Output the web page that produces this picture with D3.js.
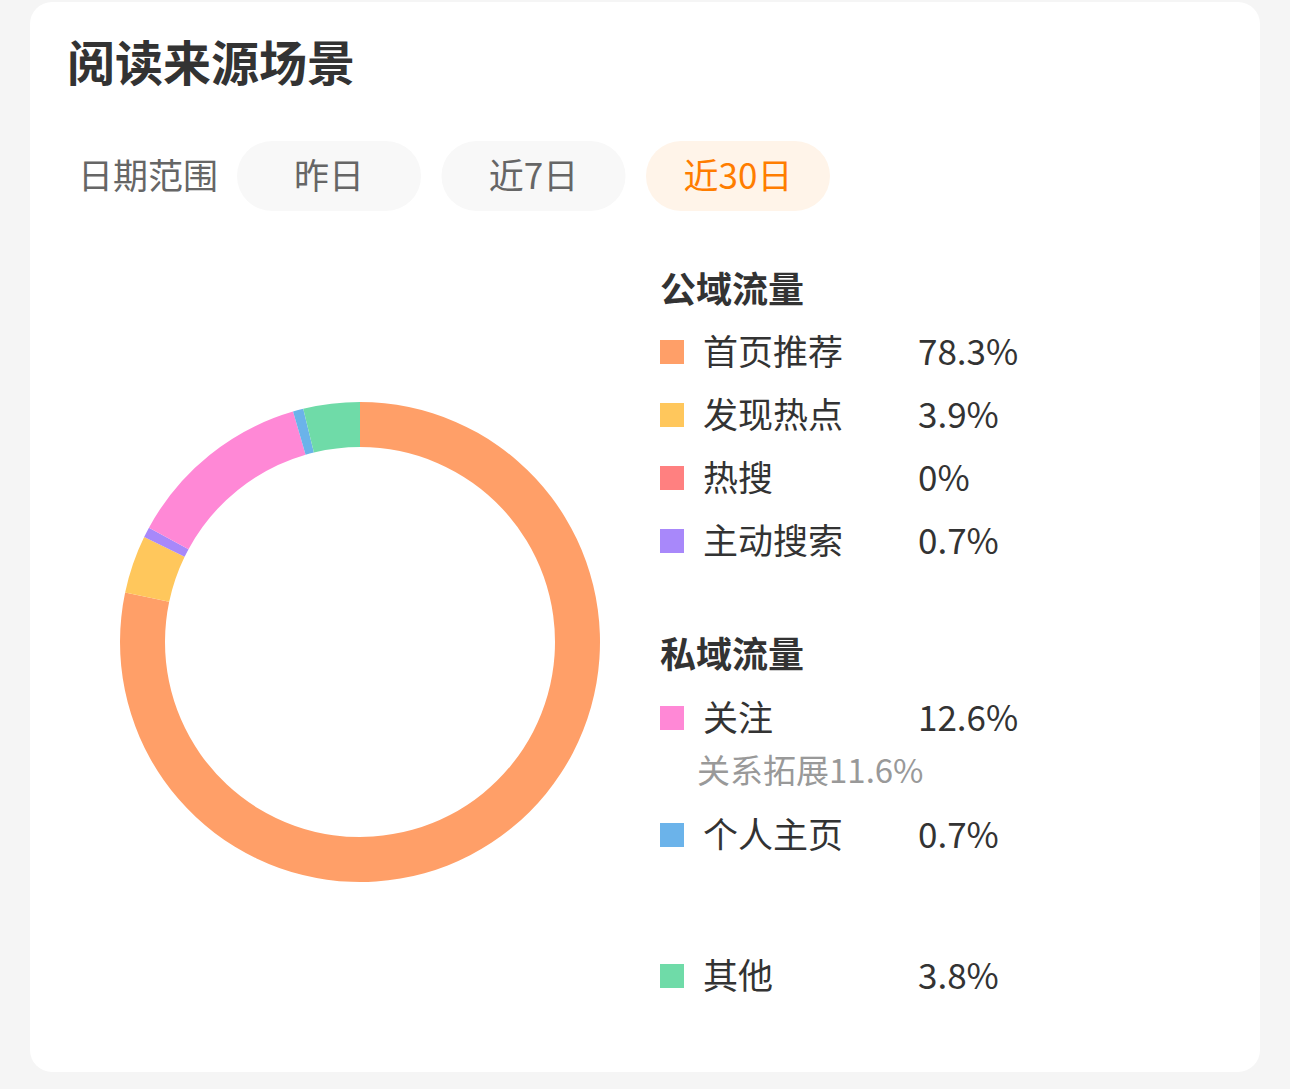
<!DOCTYPE html>
<html>
<head>
<meta charset="utf-8">
<title>阅读来源场景</title>
<script src="https://d3js.org/d3.v7.min.js"></script>
<style>
	body{
		margin:0;
		background-color:#f5f5f5;
		font-family:"Noto Sans CJK SC", "Noto Sans", sans-serif;
	}
	svg{ display:block; }
</style>
</head>
<body>
<div id="chart"></div>
<script>

// DATA

var sources = ["首页推荐", "发现热点", "热搜", "主动搜索", "关注", "个人主页", "其他"];
var shares = [78.3, 3.9, 0, 0.7, 12.6, 0.7, 3.8];
var labels = ["78.3%", "3.9%", "0%", "0.7%", "12.6%", "0.7%", "3.8%"];
var groups = ["公域流量", "公域流量", "公域流量", "公域流量", "私域流量", "私域流量", "其他"];
var colors = ["#FF9F68", "#FFC75C", "#FF8080", "#A888FA", "#FF88D6", "#6BB3EA", "#6FDBA8"];
var subNote = {source:"关注", text:"关系拓展11.6%"};
var dateTabs = ["昨日", "近7日", "近30日"];
var activeTab = "近30日";

// SETUP

var width = 1290, height = 1089;
var dy = -3; // nudge for the CJK font's central baseline

var svg = d3.select("#chart").append("svg")
	.attr("width", width)
	.attr("height", height);

svg.append("rect")
	.attr("x", 30).attr("y", 2)
	.attr("width", 1230).attr("height", 1070)
	.attr("rx", 22)
	.attr("fill", "#fff");

// TITLE + DATE TABS

svg.append("text")
	.attr("x", 67).attr("y", 63 + dy)
	.attr("dominant-baseline", "central")
	.attr("font-size", 48).attr("font-weight", 700)
	.attr("fill", "#333")
	.text("阅读来源场景");

svg.append("text")
	.attr("x", 78).attr("y", 176 + dy)
	.attr("dominant-baseline", "central")
	.attr("font-size", 35)
	.attr("fill", "#666")
	.text("日期范围");

var tabX = d3.scaleBand()
	.domain(dateTabs)
	.range([237, 830])
	.paddingInner(0.1);

var tab = svg.selectAll(".tab")
	.data(dateTabs)
	.enter().append("g")
	.attr("class", "tab")
	.attr("transform", function(d){ return "translate(" + tabX(d) + ",141)"; });

tab.append("rect")
	.attr("width", tabX.bandwidth()).attr("height", 70)
	.attr("rx", 35)
	.attr("fill", function(d){ return d == activeTab ? "#FFF4E9" : "#F8F8F8"; });

tab.append("text")
	.attr("x", tabX.bandwidth() / 2).attr("y", 35 + dy)
	.attr("text-anchor", "middle")
	.attr("dominant-baseline", "central")
	.attr("font-size", 35)
	.attr("fill", function(d){ return d == activeTab ? "#FF7D00" : "#666"; })
	.text(function(d){ return d; });

// DONUT

var rows = sources.map(function(s, i){
	return {name:s, value:shares[i], label:labels[i], group:groups[i], color:colors[i]};
});

var pie = d3.pie()
	.sort(null)
	.value(function(d){ return d.value; });

var arc = d3.arc()
	.innerRadius(195)
	.outerRadius(240);

svg.append("g")
	.attr("transform", "translate(360,642)")
	.selectAll("path")
	.data(pie(rows))
	.enter().append("path")
	.attr("fill", function(d){ return d.data.color; })
	.attr("d", arc);

// LEGEND

var legendY = {
	"公域流量": 290, "首页推荐": 352, "发现热点": 415, "热搜": 478, "主动搜索": 541,
	"私域流量": 655, "关注": 718, "个人主页": 835, "其他": 976
};

var heads = ["公域流量", "私域流量"];

svg.selectAll(".head")
	.data(heads)
	.enter().append("text")
	.attr("class", "head")
	.attr("x", 660).attr("y", function(d){ return legendY[d] + dy; })
	.attr("dominant-baseline", "central")
	.attr("font-size", 36).attr("font-weight", 700)
	.attr("fill", "#333")
	.text(function(d){ return d; });

var item = svg.selectAll(".item")
	.data(rows)
	.enter().append("g")
	.attr("class", "item")
	.attr("transform", function(d){ return "translate(0," + legendY[d.name] + ")"; });

item.append("rect")
	.attr("x", 660).attr("y", -12)
	.attr("width", 24).attr("height", 24)
	.attr("fill", function(d){ return d.color; });

item.append("text")
	.attr("x", 703).attr("y", dy)
	.attr("dominant-baseline", "central")
	.attr("font-size", 35)
	.attr("fill", "#333")
	.text(function(d){ return d.name; });

item.append("text")
	.attr("x", 918).attr("y", dy)
	.attr("dominant-baseline", "central")
	.attr("font-size", 35)
	.attr("fill", "#333")
	.text(function(d){ return d.label; });

svg.append("text")
	.attr("x", 697).attr("y", legendY[subNote.source] + 54 + dy)
	.attr("dominant-baseline", "central")
	.attr("font-size", 33)
	.attr("fill", "#999")
	.text(subNote.text);

</script>
</body>
</html>
